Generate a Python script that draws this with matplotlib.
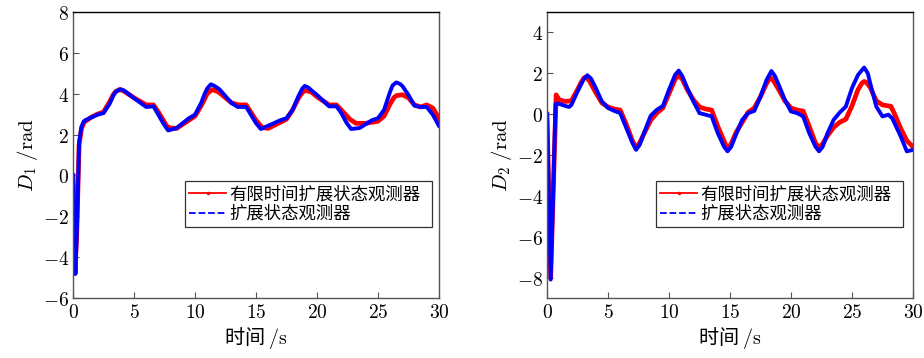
import numpy as np
import matplotlib.pyplot as plt
from matplotlib.lines import Line2D
from matplotlib.ticker import FuncFormatter

plt.rcParams['mathtext.fontset'] = 'cm'
plt.rcParams['font.family'] = ['Noto Sans CJK SC', 'DejaVu Sans']

# D1 (left panel)
t1_red = [0, 0.15, 0.3, 0.5, 0.7, 0.9, 1.5, 2, 2.5, 3, 3.3, 3.5, 3.8, 4.1, 5, 6, 6.6,
          7, 7.4, 7.7, 8.0, 8.5, 9.5, 10, 10.5, 10.8, 11, 11.4, 11.8, 12, 13, 13.6,
          14.2, 15, 15.5, 16, 17, 17.5, 18, 18.5, 18.8, 19, 19.5, 20, 21, 21.6, 22,
          22.7, 23.2, 24, 25, 25.5, 26, 26.3, 26.5, 27, 27.5, 28, 28.5, 29, 29.5, 30]
d1_red = [0, -4.8, -3.0, 1.5, 2.3, 2.6, 2.85, 3.0, 3.1, 3.6, 3.95, 4.1, 4.2, 4.15, 3.8,
          3.45, 3.45, 3.1, 2.7, 2.4, 2.32, 2.3, 2.7, 2.9, 3.4, 3.75, 4.0, 4.2, 4.12,
          4.05, 3.55, 3.45, 3.45, 2.7, 2.35, 2.3, 2.6, 2.75, 3.2, 3.8, 4.05, 4.15, 4.1,
          3.85, 3.45, 3.45, 3.2, 2.75, 2.55, 2.55, 2.65, 2.9, 3.5, 3.8, 3.9, 3.95, 3.8,
          3.45, 3.35, 3.45, 3.3, 2.8]
t1_blue = [0, 0.2, 0.35, 0.5, 0.7, 0.9, 1, 2, 2.5, 3, 3.3, 3.5, 3.9, 4.2, 5, 6, 6.6, 7,
           7.4, 7.8, 8.1, 8.5, 9.5, 10, 10.5, 10.8, 11, 11.3, 11.6, 12, 13, 13.5, 14.2,
           15, 15.4, 16, 17, 17.5, 18, 18.5, 18.8, 19, 19.3, 19.5, 20, 21, 21.6, 22,
           22.4, 22.8, 23.5, 24.5, 25, 25.5, 26, 26.2, 26.5, 26.8, 27, 27.5, 28, 28.5,
           29, 29.5, 30]
d1_blue = [0, -4.82, -2.0, 1.6, 2.4, 2.65, 2.7, 2.97, 3.05, 3.5, 3.9, 4.1, 4.22, 4.15,
           3.78, 3.35, 3.38, 2.97, 2.55, 2.2, 2.25, 2.32, 2.8, 2.97, 3.54, 4.0, 4.25,
           4.46, 4.38, 4.22, 3.54, 3.35, 3.35, 2.56, 2.27, 2.43, 2.7, 2.8, 3.2, 3.9,
           4.25, 4.38, 4.3, 4.19, 3.94, 3.38, 3.38, 3.05, 2.6, 2.27, 2.32, 2.7, 2.8, 3.2,
           4.1, 4.4, 4.55, 4.48, 4.38, 3.94, 3.41, 3.35, 3.35, 2.97, 2.43]

# D2 (right panel)
t2_red = [0, 0.3, 0.55, 0.75, 1, 1.5, 2, 2.5, 2.8, 3, 3.1, 3.3, 3.5, 4, 4.5, 5, 5.5, 6,
          6.5, 7, 7.3, 7.6, 8, 8.5, 9, 9.5, 10, 10.5, 10.8, 11.1, 11.5, 12, 12.5, 13,
          13.5, 14, 14.5, 14.8, 15.1, 15.5, 16, 16.5, 17, 17.5, 18, 18.3, 18.6, 19,
          19.5, 20, 20.5, 21, 21.5, 22, 22.3, 22.6, 23, 23.5, 24, 24.5, 25, 25.5, 25.8,
          26, 26.2, 26.5, 27, 27.5, 28, 28.2, 28.5, 29, 29.5, 30]
d2_red = [0, -8.0, -3.0, 0.94, 0.7, 0.62, 0.65, 1.2, 1.55, 1.75, 1.8, 1.75, 1.6, 1.05,
          0.55, 0.35, 0.25, 0.2, -0.5, -1.3, -1.65, -1.4, -0.9, -0.3, 0.05, 0.3, 1.0,
          1.7, 1.9, 1.7, 1.2, 0.7, 0.35, 0.25, 0.2, -0.6, -1.3, -1.7, -1.45, -0.9, -0.4,
          0.1, 0.3, 0.85, 1.5, 1.8, 1.6, 1.2, 0.65, 0.3, 0.2, 0.15, -0.6, -1.4, -1.65,
          -1.45, -1.05, -0.65, -0.4, -0.25, 0.4, 1.2, 1.5, 1.6, 1.55, 1.3, 0.65, 0.45,
          0.4, 0.38, 0.0, -0.7, -1.3, -1.6]
t2_blue = [0, 0.3, 0.5, 0.7, 1, 1.5, 1.8, 2, 2.5, 3, 3.3, 3.6, 4, 4.5, 5, 5.5, 6, 6.5,
           7, 7.3, 7.6, 8, 8.5, 9, 9.5, 10, 10.5, 10.8, 11.1, 11.5, 12, 12.5, 13, 13.5,
           14, 14.5, 14.8, 15.1, 15.5, 16, 16.5, 17, 17.5, 18, 18.4, 18.7, 19, 19.5,
           20, 20.5, 21, 21.5, 22, 22.3, 22.6, 23, 23.5, 24, 24.5, 25, 25.5, 26, 26.3,
           26.5, 27, 27.5, 28, 28.3, 29, 29.5, 30]
d2_blue = [0, -8.1, -4.0, 0.5, 0.5, 0.4, 0.35, 0.45, 1.1, 1.7, 1.9, 1.75, 1.27, 0.62,
           0.3, 0.16, 0.05, -0.68, -1.41, -1.75, -1.5, -0.85, -0.08, 0.21, 0.4, 1.19,
           1.92, 2.13, 1.85, 1.27, 0.62, 0.05, -0.03, -0.11, -0.93, -1.58, -1.82, -1.6,
           -1.0, -0.28, 0.05, 0.16, 0.86, 1.67, 2.11, 1.85, 1.43, 0.7, 0.13, 0.05,
           -0.11, -0.93, -1.58, -1.82, -1.6, -0.93, -0.28, 0.08, 0.37, 1.27, 1.92, 2.28,
           2.0, 1.51, 0.37, -0.11, -0.03, -0.2, -1.09, -1.82, -1.75]

labels = ['有限时间扩展状态观测器', '扩展状态观测器']
panels = [
    (t1_red, d1_red, t1_blue, d1_blue, (-6, 8), range(-6, 9, 2), r'$D_1\ /\mathrm{rad}$',
     [0.079, 0.1676, 0.396, 0.799], 0.306),
    (t2_red, d2_red, t2_blue, d2_blue, (-9, 5), range(-8, 5, 2), r'$D_2\ /\mathrm{rad}$',
     [0.592, 0.1676, 0.396, 0.799], 0.298),
]

fig = plt.figure(figsize=(9.24, 3.58), dpi=100)
for tr, dr, tb, db, ylim, yt, ylab, pos, lx in panels:
    ax = fig.add_axes(pos)
    ax.plot(tr, dr, color='#ff0000', lw=3.4, solid_joinstyle='round')
    ax.plot(tb, db, color='#0000ff', lw=2.8, solid_joinstyle='round')
    ax.set_xlim(0, 30)
    ax.set_ylim(*ylim)
    ax.set_xticks(range(0, 31, 5))
    ax.set_yticks(list(yt))
    fmt = FuncFormatter(lambda v, p: r'$%d$' % v)
    ax.xaxis.set_major_formatter(fmt)
    ax.yaxis.set_major_formatter(fmt)
    ax.tick_params(direction='in', length=4, width=0.8, color='#555555',
                   labelsize=14, top=False, right=False, pad=3)
    for s in ['left', 'bottom', 'right']:
        ax.spines[s].set_color('#555555')
    ax.spines['top'].set_color('black')
    for s in ax.spines.values():
        s.set_linewidth(1.0)
    ax.set_xlabel('时间 $/\\mathrm{s}$', fontsize=14.5, labelpad=1)
    ax.set_ylabel(ylab, fontsize=15, labelpad=2)
    handles = [Line2D([], [], color='red', lw=1.3, marker='.', markersize=3),
               Line2D([], [], color='blue', lw=1.3, ls='--')]
    leg = ax.legend(handles, labels, loc='upper left',
                    bbox_to_anchor=(lx, 0.241, 0.675, 0.168), mode='expand',
                    fontsize=12.5, frameon=True, fancybox=False, handlelength=2.1,
                    borderpad=0.25, labelspacing=0.1, handletextpad=0.2,
                    borderaxespad=0)
    leg.get_frame().set_edgecolor('black')
    leg.get_frame().set_linewidth(0.9)

fig.savefig('out.png', dpi=100)
